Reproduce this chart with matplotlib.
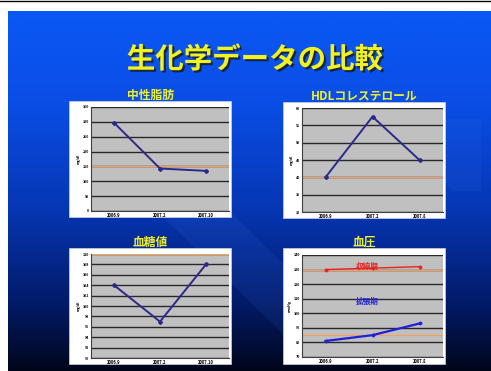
import numpy as np
import matplotlib.pyplot as plt
from matplotlib.patches import Rectangle, Polygon
from matplotlib.colors import LinearSegmentedColormap
import matplotlib.patheffects as pe

plt.rcParams['font.family'] = ['Noto Sans CJK JP', 'DejaVu Sans']

# データ
title = "生化学データの比較"
dates_a = ["2006.9", "2007.2", "2007.10"]
dates_b = ["2006.9", "2007.2", "2007.8"]

tg_vals = [297, 143, 135]          # 中性脂肪
tg_ref = 150
tg_ticks = [0, 50, 100, 150, 200, 250, 300, 350]

hdl_vals = [40, 57.5, 45]          # HDLコレステロール
hdl_ref = 40
hdl_ticks = [30, 35, 40, 45, 50, 55, 60]

glu_vals = [104, 97, 108]          # 血糖値
glu_ref = 110
glu_ticks = [90, 92, 94, 96, 98, 100, 102, 104, 106, 108, 110]

sys_vals = [130, 131, 132]         # 収縮期
dia_vals = [81, 85, 93]            # 拡張期
bp_refs = [130, 85]
bp_ticks = [70, 80, 90, 100, 110, 120, 130, 140]

W, H = 491, 371
fig = plt.figure(figsize=(W / 100, H / 100), dpi=100)
fig.patch.set_facecolor("white")

# 背景 (スライド)
bg = fig.add_axes([8 / W, 0, 1 - 8 / W, (H - 11) / H])
bg.set_axis_off()
grad = np.linspace(0, 1, 256).reshape(-1, 1)
cmap = LinearSegmentedColormap.from_list(
    "slide", [(0, "#00061a"), (0.18, "#021a66"), (0.45, "#0636b4"),
              (0.75, "#0a4ee6"), (1, "#0a58f5")])
bg.imshow(grad, aspect="auto", cmap=cmap, origin="lower", extent=[0, 1, 0, 1])
bg.add_patch(Polygon([(0.25, 0.52), (0.40, 0.52), (0.76, 0.05), (0.61, 0.05)],
                     closed=True, color="#4a8cff", alpha=0.09, lw=0))
bg.add_patch(Polygon([(0.80, 0.70), (0.98, 0.70), (0.98, 0.50), (0.92, 0.50)],
                     closed=True, color="#4a8cff", alpha=0.08, lw=0))
bg.set_xlim(0, 1)
bg.set_ylim(0, 1)

# タイトル (影付き)
fig.text(255 / W, 1 - 60 / H, title, ha="center", va="center", fontsize=20.5,
         fontweight="bold", color="#f2f21e",
         path_effects=[pe.withSimplePatchShadow(offset=(1.5, -1.5), shadow_rgbFace="#1a1a1a",
                                                alpha=0.8)])


def panel(box, area, name, ticks, refs, labels, ylabel):
    bx0, by0, bx1, by1 = box
    fig.add_artist(Rectangle((bx0 / W, 1 - by1 / H), (bx1 - bx0) / W, (by1 - by0) / H,
                             transform=fig.transFigure, facecolor="white",
                             edgecolor="#d0d0d0", lw=0.5, zorder=1))
    fig.text((bx0 + bx1) / 2 / W, 1 - (by0 - 6) / H, name, ha="center", va="center",
             fontsize=8.5, fontweight="bold", color="#f0f028")
    ax0, ay0, ax1, ay1 = area
    ax = fig.add_axes([ax0 / W, 1 - ay1 / H, (ax1 - ax0) / W, (ay1 - ay0) / H], zorder=2)
    ax.set_facecolor("#c0c0c0")
    x = np.arange(len(labels))
    for r in refs:
        ax.axhline(r, color="#f0a060", lw=0.9, zorder=2)
    ax.set_xlim(-0.5, len(labels) - 0.5)
    ax.set_ylim(ticks[0], ticks[-1])
    ax.set_yticks(ticks)
    ax.set_yticklabels([str(t) for t in ticks], fontsize=2.6, fontweight="bold")
    ax.set_xticks(x)
    ax.set_xticklabels(labels, fontsize=3, fontweight="bold")
    ax.tick_params(length=0, pad=1.5)
    ax.grid(axis="y", color="#282828", lw=1.0, zorder=1)
    ax.set_axisbelow(True)
    for s in ["top", "right"]:
        ax.spines[s].set_visible(False)
    for s in ["left", "bottom"]:
        ax.spines[s].set_color("#404040")
        ax.spines[s].set_linewidth(0.8)
    ax.set_ylabel(ylabel, fontsize=2.6, fontweight="bold", labelpad=1)
    return ax, x


ax, x = panel((69, 101, 231, 217), (91, 107, 229, 211), "中性脂肪",
              tg_ticks, [tg_ref], dates_a, "mg/dl")
ax.plot(x, tg_vals, color="#2a2a8a", lw=1.4, marker="D", ms=2, zorder=3)

ax, x = panel((283, 102, 445, 218), (302, 108, 443, 212), "HDLコレステロール",
              hdl_ticks, [hdl_ref], dates_b, "mg/dl")
ax.plot(x, hdl_vals, color="#2a2a8a", lw=1.4, marker="D", ms=2, zorder=3)

ax, x = panel((69, 248, 231, 364), (91, 254, 229, 358), "血糖値",
              glu_ticks, [glu_ref], dates_a, "mg/dl")
ax.plot(x, glu_vals, color="#2a2a8a", lw=1.4, marker="D", ms=2, zorder=3)

ax, x = panel((283, 248, 445, 364), (302, 255, 443, 357), "血圧",
              bp_ticks, bp_refs, dates_b, "mmHg")
ax.plot(x, sys_vals, color="#e82020", lw=1.0, marker="D", ms=1.5, zorder=3)
ax.plot(x, dia_vals, color="#2020d8", lw=1.6, marker="D", ms=1.5, zorder=3)
ax.text(0.88, 131.8, "収縮期", color="#e82020", fontsize=5.5, fontweight="bold",
        ha="center", va="center", zorder=4)
ax.text(0.88, 108.4, "拡張期", color="#2020d8", fontsize=5.5, fontweight="bold",
        ha="center", va="center", zorder=4)

fig.add_artist(plt.Line2D([0, 1], [1 - 0.5 / H, 1 - 0.5 / H], transform=fig.transFigure,
                          color="black", lw=1))

fig.savefig("out.png", dpi=100)
